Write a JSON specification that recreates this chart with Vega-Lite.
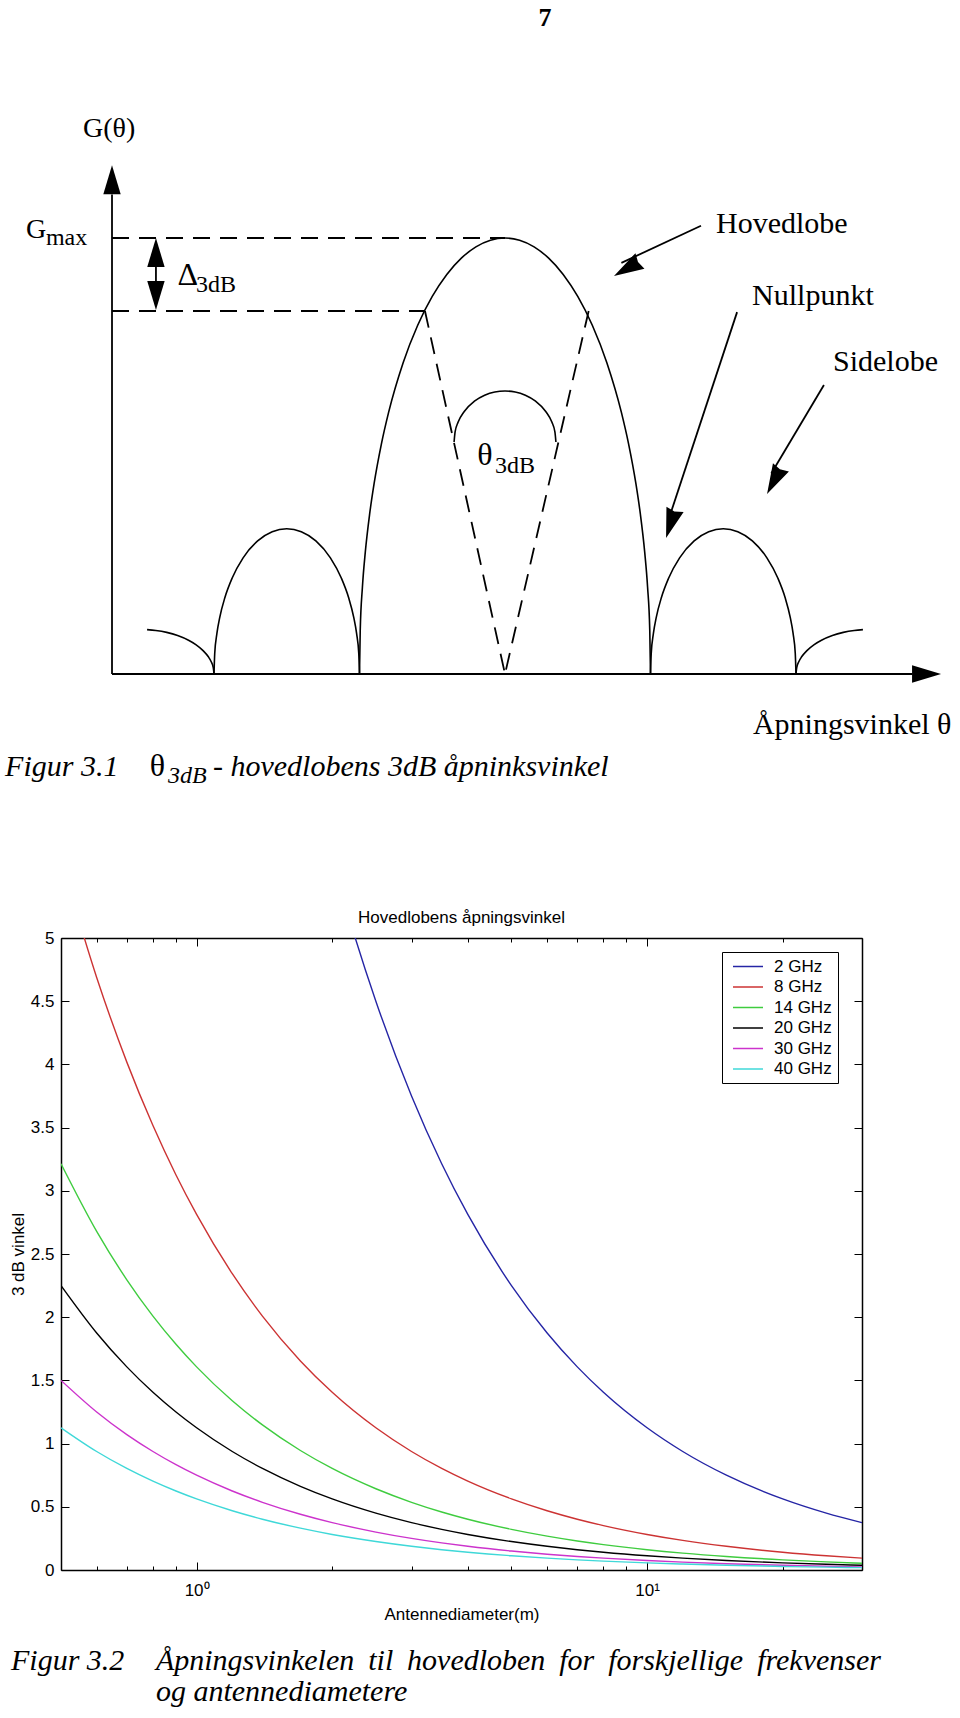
{
  "$schema": "https://vega.github.io/schema/vega-lite/v6.json",
  "width": 801,
  "height": 632,
  "autosize": {"type": "none"},
  "padding": {"left": 61, "top": 938, "right": 98, "bottom": 148},
  "background": "white",
  "config": {"view": {"stroke": null}},
  "datasets": {
    "curves": [
      {"f":"2 GHz","d":2,"v":5.625},{"f":"2 GHz","d":2.25,"v":5.0},{"f":"2 GHz","d":2.5,"v":4.5},{"f":"2 GHz","d":3,"v":3.75},{"f":"2 GHz","d":3.5,"v":3.214},{"f":"2 GHz","d":4,"v":2.813},{"f":"2 GHz","d":5,"v":2.25},{"f":"2 GHz","d":6,"v":1.875},{"f":"2 GHz","d":7,"v":1.607},{"f":"2 GHz","d":8,"v":1.406},{"f":"2 GHz","d":10,"v":1.125},{"f":"2 GHz","d":12,"v":0.9375},{"f":"2 GHz","d":15,"v":0.75},{"f":"2 GHz","d":20,"v":0.5625},{"f":"2 GHz","d":25,"v":0.45},{"f":"2 GHz","d":30,"v":0.375},
      {"f":"8 GHz","d":0.5,"v":5.625},{"f":"8 GHz","d":0.6,"v":4.688},{"f":"8 GHz","d":0.7,"v":4.018},{"f":"8 GHz","d":0.8,"v":3.516},{"f":"8 GHz","d":0.9,"v":3.125},{"f":"8 GHz","d":1,"v":2.813},{"f":"8 GHz","d":1.2,"v":2.344},{"f":"8 GHz","d":1.4,"v":2.009},{"f":"8 GHz","d":1.7,"v":1.654},{"f":"8 GHz","d":2,"v":1.406},{"f":"8 GHz","d":2.5,"v":1.125},{"f":"8 GHz","d":3,"v":0.9375},{"f":"8 GHz","d":3.5,"v":0.8036},{"f":"8 GHz","d":4,"v":0.7031},{"f":"8 GHz","d":5,"v":0.5625},{"f":"8 GHz","d":6,"v":0.4688},{"f":"8 GHz","d":7,"v":0.4018},{"f":"8 GHz","d":8,"v":0.3516},{"f":"8 GHz","d":10,"v":0.2813},{"f":"8 GHz","d":12,"v":0.2344},{"f":"8 GHz","d":15,"v":0.1875},{"f":"8 GHz","d":20,"v":0.1406},{"f":"8 GHz","d":25,"v":0.1125},{"f":"8 GHz","d":30,"v":0.0938},
      {"f":"14 GHz","d":0.5,"v":3.214},{"f":"14 GHz","d":0.6,"v":2.679},{"f":"14 GHz","d":0.7,"v":2.296},{"f":"14 GHz","d":0.8,"v":2.009},{"f":"14 GHz","d":0.9,"v":1.786},{"f":"14 GHz","d":1,"v":1.607},{"f":"14 GHz","d":1.2,"v":1.339},{"f":"14 GHz","d":1.4,"v":1.148},{"f":"14 GHz","d":1.7,"v":0.9454},{"f":"14 GHz","d":2,"v":0.8036},{"f":"14 GHz","d":2.5,"v":0.6429},{"f":"14 GHz","d":3,"v":0.5357},{"f":"14 GHz","d":3.5,"v":0.4592},{"f":"14 GHz","d":4,"v":0.4018},{"f":"14 GHz","d":5,"v":0.3214},{"f":"14 GHz","d":6,"v":0.2679},{"f":"14 GHz","d":7,"v":0.2296},{"f":"14 GHz","d":8,"v":0.2009},{"f":"14 GHz","d":10,"v":0.1607},{"f":"14 GHz","d":12,"v":0.1339},{"f":"14 GHz","d":15,"v":0.1071},{"f":"14 GHz","d":20,"v":0.0804},{"f":"14 GHz","d":25,"v":0.0643},{"f":"14 GHz","d":30,"v":0.0536},
      {"f":"20 GHz","d":0.5,"v":2.25},{"f":"20 GHz","d":0.6,"v":1.875},{"f":"20 GHz","d":0.7,"v":1.607},{"f":"20 GHz","d":0.8,"v":1.406},{"f":"20 GHz","d":0.9,"v":1.25},{"f":"20 GHz","d":1,"v":1.125},{"f":"20 GHz","d":1.2,"v":0.9375},{"f":"20 GHz","d":1.4,"v":0.8036},{"f":"20 GHz","d":1.7,"v":0.6618},{"f":"20 GHz","d":2,"v":0.5625},{"f":"20 GHz","d":2.5,"v":0.45},{"f":"20 GHz","d":3,"v":0.375},{"f":"20 GHz","d":3.5,"v":0.3214},{"f":"20 GHz","d":4,"v":0.2813},{"f":"20 GHz","d":5,"v":0.225},{"f":"20 GHz","d":6,"v":0.1875},{"f":"20 GHz","d":7,"v":0.1607},{"f":"20 GHz","d":8,"v":0.1406},{"f":"20 GHz","d":10,"v":0.1125},{"f":"20 GHz","d":12,"v":0.0938},{"f":"20 GHz","d":15,"v":0.075},{"f":"20 GHz","d":20,"v":0.0563},{"f":"20 GHz","d":25,"v":0.045},{"f":"20 GHz","d":30,"v":0.0375},
      {"f":"30 GHz","d":0.5,"v":1.5},{"f":"30 GHz","d":0.6,"v":1.25},{"f":"30 GHz","d":0.7,"v":1.071},{"f":"30 GHz","d":0.8,"v":0.9375},{"f":"30 GHz","d":0.9,"v":0.8333},{"f":"30 GHz","d":1,"v":0.75},{"f":"30 GHz","d":1.2,"v":0.625},{"f":"30 GHz","d":1.4,"v":0.5357},{"f":"30 GHz","d":1.7,"v":0.4412},{"f":"30 GHz","d":2,"v":0.375},{"f":"30 GHz","d":2.5,"v":0.3},{"f":"30 GHz","d":3,"v":0.25},{"f":"30 GHz","d":3.5,"v":0.2143},{"f":"30 GHz","d":4,"v":0.1875},{"f":"30 GHz","d":5,"v":0.15},{"f":"30 GHz","d":6,"v":0.125},{"f":"30 GHz","d":7,"v":0.1071},{"f":"30 GHz","d":8,"v":0.0938},{"f":"30 GHz","d":10,"v":0.075},{"f":"30 GHz","d":12,"v":0.0625},{"f":"30 GHz","d":15,"v":0.05},{"f":"30 GHz","d":20,"v":0.0375},{"f":"30 GHz","d":25,"v":0.03},{"f":"30 GHz","d":30,"v":0.025},
      {"f":"40 GHz","d":0.5,"v":1.125},{"f":"40 GHz","d":0.6,"v":0.9375},{"f":"40 GHz","d":0.7,"v":0.8036},{"f":"40 GHz","d":0.8,"v":0.7031},{"f":"40 GHz","d":0.9,"v":0.625},{"f":"40 GHz","d":1,"v":0.5625},{"f":"40 GHz","d":1.2,"v":0.4688},{"f":"40 GHz","d":1.4,"v":0.4018},{"f":"40 GHz","d":1.7,"v":0.3309},{"f":"40 GHz","d":2,"v":0.2813},{"f":"40 GHz","d":2.5,"v":0.225},{"f":"40 GHz","d":3,"v":0.1875},{"f":"40 GHz","d":3.5,"v":0.1607},{"f":"40 GHz","d":4,"v":0.1406},{"f":"40 GHz","d":5,"v":0.1125},{"f":"40 GHz","d":6,"v":0.0938},{"f":"40 GHz","d":7,"v":0.0804},{"f":"40 GHz","d":8,"v":0.0703},{"f":"40 GHz","d":10,"v":0.0563},{"f":"40 GHz","d":12,"v":0.0469},{"f":"40 GHz","d":15,"v":0.0375},{"f":"40 GHz","d":20,"v":0.0281},{"f":"40 GHz","d":25,"v":0.0225},{"f":"40 GHz","d":30,"v":0.0188}
    ],
    "charttitle": [
      {"txt":"Hovedlobens åpningsvinkel","d":3.873,"v":5.119}
    ],
    "lobes": [
      {"id":"main","t":-1,"g":0},{"id":"main","t":-0.995,"g":0.0999},{"id":"main","t":-0.98,"g":0.199},{"id":"main","t":-0.96,"g":0.28},{"id":"main","t":-0.93,"g":0.3676},{"id":"main","t":-0.9,"g":0.4359},{"id":"main","t":-0.85,"g":0.5268},{"id":"main","t":-0.8,"g":0.6},{"id":"main","t":-0.7,"g":0.7141},{"id":"main","t":-0.6,"g":0.8},{"id":"main","t":-0.5,"g":0.866},{"id":"main","t":-0.4,"g":0.9165},{"id":"main","t":-0.3,"g":0.9539},{"id":"main","t":-0.2,"g":0.9798},{"id":"main","t":-0.1,"g":0.995},{"id":"main","t":0,"g":1},{"id":"main","t":0.1,"g":0.995},{"id":"main","t":0.2,"g":0.9798},{"id":"main","t":0.3,"g":0.9539},{"id":"main","t":0.4,"g":0.9165},{"id":"main","t":0.5,"g":0.866},{"id":"main","t":0.6,"g":0.8},{"id":"main","t":0.7,"g":0.7141},{"id":"main","t":0.8,"g":0.6},{"id":"main","t":0.85,"g":0.5268},{"id":"main","t":0.9,"g":0.4359},{"id":"main","t":0.93,"g":0.3676},{"id":"main","t":0.96,"g":0.28},{"id":"main","t":0.98,"g":0.199},{"id":"main","t":0.995,"g":0.0999},{"id":"main","t":1,"g":0},
      {"id":"sideL","t":-2,"g":0},{"id":"sideL","t":-1.995,"g":0.047},{"id":"sideL","t":-1.98,"g":0.093},{"id":"sideL","t":-1.96,"g":0.1305},{"id":"sideL","t":-1.925,"g":0.1755},{"id":"sideL","t":-1.875,"g":0.2202},{"id":"sideL","t":-1.8,"g":0.2664},{"id":"sideL","t":-1.7,"g":0.3052},{"id":"sideL","t":-1.6,"g":0.3263},{"id":"sideL","t":-1.5,"g":0.333},{"id":"sideL","t":-1.4,"g":0.3263},{"id":"sideL","t":-1.3,"g":0.3052},{"id":"sideL","t":-1.2,"g":0.2664},{"id":"sideL","t":-1.125,"g":0.2202},{"id":"sideL","t":-1.075,"g":0.1755},{"id":"sideL","t":-1.04,"g":0.1305},{"id":"sideL","t":-1.02,"g":0.093},{"id":"sideL","t":-1.005,"g":0.047},{"id":"sideL","t":-1,"g":0},
      {"id":"sideR","t":1,"g":0},{"id":"sideR","t":1.005,"g":0.047},{"id":"sideR","t":1.02,"g":0.093},{"id":"sideR","t":1.04,"g":0.1305},{"id":"sideR","t":1.075,"g":0.1755},{"id":"sideR","t":1.125,"g":0.2202},{"id":"sideR","t":1.2,"g":0.2664},{"id":"sideR","t":1.3,"g":0.3052},{"id":"sideR","t":1.4,"g":0.3263},{"id":"sideR","t":1.5,"g":0.333},{"id":"sideR","t":1.6,"g":0.3263},{"id":"sideR","t":1.7,"g":0.3052},{"id":"sideR","t":1.8,"g":0.2664},{"id":"sideR","t":1.875,"g":0.2202},{"id":"sideR","t":1.925,"g":0.1755},{"id":"sideR","t":1.96,"g":0.1305},{"id":"sideR","t":1.98,"g":0.093},{"id":"sideR","t":1.995,"g":0.047},{"id":"sideR","t":2,"g":0},
      {"id":"partL","t":-2.46,"g":0.1017},{"id":"partL","t":-2.4,"g":0.0999},{"id":"partL","t":-2.325,"g":0.0955},{"id":"partL","t":-2.25,"g":0.0883},{"id":"partL","t":-2.175,"g":0.0775},{"id":"partL","t":-2.125,"g":0.0675},{"id":"partL","t":-2.075,"g":0.0537},{"id":"partL","t":-2.04,"g":0.04},{"id":"partL","t":-2.02,"g":0.0286},{"id":"partL","t":-2.005,"g":0.0144},{"id":"partL","t":-2,"g":0},
      {"id":"partR","t":2,"g":0},{"id":"partR","t":2.005,"g":0.0144},{"id":"partR","t":2.02,"g":0.0286},{"id":"partR","t":2.04,"g":0.04},{"id":"partR","t":2.075,"g":0.0537},{"id":"partR","t":2.125,"g":0.0675},{"id":"partR","t":2.175,"g":0.0775},{"id":"partR","t":2.25,"g":0.0883},{"id":"partR","t":2.325,"g":0.0955},{"id":"partR","t":2.4,"g":0.0999},{"id":"partR","t":2.46,"g":0.1017},
      {"id":"arc","t":-0.35,"g":0.532},{"id":"arc","t":-0.343,"g":0.5553},{"id":"arc","t":-0.322,"g":0.5779},{"id":"arc","t":-0.28,"g":0.6022},{"id":"arc","t":-0.21,"g":0.6256},{"id":"arc","t":-0.14,"g":0.6392},{"id":"arc","t":-0.07,"g":0.6467},{"id":"arc","t":0,"g":0.649},{"id":"arc","t":0.07,"g":0.6467},{"id":"arc","t":0.14,"g":0.6392},{"id":"arc","t":0.21,"g":0.6256},{"id":"arc","t":0.28,"g":0.6022},{"id":"arc","t":0.322,"g":0.5779},{"id":"arc","t":0.343,"g":0.5553},{"id":"arc","t":0.35,"g":0.532}
    ],
    "segs": [
      {"k":"solid","name":"yaxis","t":-2.701,"g":0,"t2":-2.701,"g2":1.1},
      {"k":"solid","name":"xaxis","t":-2.701,"g":0,"t2":2.8,"g2":0},
      {"k":"solid","name":"delta","t":-2.399,"g":0.86,"t2":-2.399,"g2":0.975},
      {"k":"solid","name":"hovedlobe","t":1.347,"g":1.028,"t2":0.8,"g2":0.943},
      {"k":"solid","name":"nullpunkt","t":1.595,"g":0.83,"t2":1.13,"g2":0.36},
      {"k":"solid","name":"sidelobe","t":2.192,"g":0.663,"t2":1.83,"g2":0.46},
      {"k":"dash","name":"gmax","t":-2.701,"g":1,"t2":0,"g2":1},
      {"k":"dash","name":"g3db","t":-2.701,"g":0.8326,"t2":-0.55,"g2":0.8326},
      {"k":"dash","name":"leftdiag","t":-0.55,"g":0.8326,"t2":0,"g2":0},
      {"k":"dash","name":"rightdiag","t":0.575,"g":0.8326,"t2":0,"g2":0}
    ],
    "heads": [
      {"dir":"up","t":-2.701,"g":1.167},
      {"dir":"up","t":-2.399,"g":1.0},
      {"dir":"down","t":-2.399,"g":0.835},
      {"dir":"right","t":2.997,"g":0},
      {"dir":"hoved","t":0.749,"g":0.913},
      {"dir":"null","t":1.107,"g":0.312},
      {"dir":"side","t":1.801,"g":0.413}
    ],
    "labels": [
      {"sty":"lab30","txt":"Hovedlobe","t":1.45,"g":1.011},
      {"sty":"lab30","txt":"Nullpunkt","t":1.698,"g":0.846},
      {"sty":"lab30","txt":"Sidelobe","t":2.254,"g":0.695},
      {"sty":"lab30","txt":"Åpningsvinkel θ","t":1.704,"g":-0.138},
      {"sty":"g28","txt":"G(θ)","t":-2.9,"g":1.232},
      {"sty":"g28","txt":"G","t":-3.292,"g":1.0},
      {"sty":"big","txt":"θ","t":-0.19,"g":0.479},
      {"sty":"big","txt":"Δ","t":-2.251,"g":0.892},
      {"sty":"sub24","txt":"max","t":-3.155,"g":0.984},
      {"sty":"sub24","txt":"3dB","t":-2.124,"g":0.876},
      {"sty":"sub24","txt":"3dB","t":-0.069,"g":0.461},
      {"sty":"page","txt":"7","t":0.275,"g":1.487},
      {"sty":"cap","txt":"Figur 3.1","t":-3.436,"g":-0.233},
      {"sty":"cap","txt":"- hovedlobens 3dB åpninksvinkel","t":-2.007,"g":-0.233},
      {"sty":"cap","txt":"Figur 3.2","t":-3.395,"g":-2.284},
      {"sty":"cap","txt":"Åpningsvinkelen","t":-2.399,"g":-2.284},
      {"sty":"cap","txt":"til","t":-0.94,"g":-2.284},
      {"sty":"cap","txt":"hovedloben","t":-0.673,"g":-2.284},
      {"sty":"cap","txt":"for","t":0.373,"g":-2.284},
      {"sty":"cap","txt":"forskjellige","t":0.709,"g":-2.284},
      {"sty":"cap","txt":"frekvenser","t":1.733,"g":-2.284},
      {"sty":"cap","txt":"og antennediametere","t":-2.399,"g":-2.356},
      {"sty":"capth","txt":"θ","t":-2.442,"g":-0.233},
      {"sty":"capsub","txt":"3dB","t":-2.316,"g":-0.25}
    ]
  },
  "resolve": {"scale": {"x": "independent", "y": "independent"}},
  "layer": [
    {
      "resolve": {"axis": {"x": "independent", "y": "independent"}},
      "layer": [
        {
          "data": {"name": "curves"},
          "mark": {"type": "line", "clip": true, "strokeWidth": 1.4, "interpolate": "monotone"},
          "encoding": {
            "x": {
              "field": "d", "type": "quantitative",
              "scale": {"type": "log", "domain": [0.5, 30], "nice": false},
              "axis": {
                "orient": "bottom",
                "values": [0.5, 0.6, 0.7, 0.8, 0.9, 1, 2, 3, 4, 5, 6, 7, 8, 9, 10, 20, 30],
                "labelExpr": "datum.value == 1 ? '10⁰' : (datum.value == 10 ? '10¹' : '')",
                "title": "Antennediameter(m)",
                "grid": false,
                "domainColor": "black", "domainWidth": 1.5,
                "tickColor": "black", "tickWidth": 1,
                "tickSize": {"condition": {"test": "datum.value == 1 || datum.value == 10", "value": -8}, "value": -4},
                "labelPadding": 20,
                "labelFont": "Liberation Sans", "labelFontSize": 17, "labelColor": "black",
                "labelOverlap": false, "labelFlush": false,
                "titleFont": "Liberation Sans", "titleFontSize": 17, "titleFontWeight": "normal", "titleColor": "black", "titlePadding": 4
              }
            },
            "y": {
              "field": "v", "type": "quantitative",
              "scale": {"domain": [0, 5], "nice": false, "zero": false},
              "axis": {
                "orient": "left",
                "values": [0, 0.5, 1, 1.5, 2, 2.5, 3, 3.5, 4, 4.5, 5],
                "format": "~g",
                "title": "3 dB vinkel",
                "grid": false,
                "domainColor": "black", "domainWidth": 1.5,
                "tickColor": "black", "tickWidth": 1, "tickSize": -8,
                "labelPadding": 15,
                "labelFont": "Liberation Sans", "labelFontSize": 17, "labelColor": "black",
                "labelFlush": false, "labelOverlap": false,
                "titleFont": "Liberation Sans", "titleFontSize": 17, "titleFontWeight": "normal", "titleColor": "black", "titlePadding": 3
              }
            },
            "color": {
              "field": "f", "type": "nominal",
              "scale": {
                "domain": ["2 GHz", "8 GHz", "14 GHz", "20 GHz", "30 GHz", "40 GHz"],
                "range": ["#2525a5", "#cc3333", "#3fcc3f", "#000000", "#cc33cc", "#3fd8d8"]
              },
              "legend": {
                "orient": "none", "legendX": 661, "legendY": 14,
                "title": null,
                "symbolType": "M-0.467,0H3.533", "symbolSize": 225, "symbolStrokeWidth": 1.5,
                "labelFont": "Liberation Sans", "labelFontSize": 17, "labelColor": "black",
                "labelOffset": 29, "rowPadding": 2.5, "padding": 6,
                "strokeColor": "black", "fillColor": "white"
              }
            }
          }
        },
        {
          "data": {"name": "charttitle"},
          "mark": {"type": "text", "font": "Liberation Sans", "fontSize": 17, "align": "center", "baseline": "alphabetic", "color": "black"},
          "encoding": {
            "x": {
              "field": "d", "type": "quantitative",
              "scale": {"type": "log", "domain": [0.5, 30], "nice": false},
              "axis": {
                "orient": "top",
                "values": [0.5, 0.6, 0.7, 0.8, 0.9, 1, 2, 3, 4, 5, 6, 7, 8, 9, 10, 20, 30],
                "labels": false, "title": null, "grid": false,
                "domainColor": "black", "domainWidth": 1.5,
                "tickColor": "black", "tickWidth": 1,
                "tickSize": {"condition": {"test": "datum.value == 1 || datum.value == 10", "value": -8}, "value": -4}
              }
            },
            "y": {
              "field": "v", "type": "quantitative",
              "scale": {"domain": [0, 5], "nice": false, "zero": false},
              "axis": {
                "orient": "right",
                "values": [0, 0.5, 1, 1.5, 2, 2.5, 3, 3.5, 4, 4.5, 5],
                "labels": false, "title": null, "grid": false,
                "domainColor": "black", "domainWidth": 1.5,
                "tickColor": "black", "tickWidth": 1, "tickSize": -8
              }
            },
            "text": {"field": "txt"}
          }
        }
      ]
    },
    {
      "encoding": {
        "x": {"field": "t", "type": "quantitative", "scale": {"domain": [-3, 3], "range": [7.5, 880.5], "nice": false, "zero": false}, "axis": null},
        "y": {"field": "g", "type": "quantitative", "scale": {"domain": [0, 1], "range": [-264, -700], "nice": false, "zero": false}, "axis": null}
      },
      "layer": [
        {
          "data": {"name": "lobes"},
          "mark": {"type": "line", "color": "black", "strokeWidth": 1.6, "interpolate": "monotone"},
          "encoding": {"detail": {"field": "id"}}
        },
        {
          "data": {"name": "segs"},
          "transform": [{"filter": "datum.k == 'solid'"}],
          "mark": {"type": "rule", "color": "black", "strokeWidth": 1.8},
          "encoding": {"x2": {"field": "t2"}, "y2": {"field": "g2"}}
        },
        {
          "data": {"name": "segs"},
          "transform": [{"filter": "datum.k == 'dash'"}],
          "mark": {"type": "rule", "color": "black", "strokeWidth": 1.8, "strokeDash": [17, 10]},
          "encoding": {"x2": {"field": "t2"}, "y2": {"field": "g2"}}
        },
        {
          "data": {"name": "heads"},
          "transform": [{"filter": "datum.dir == 'up'"}],
          "mark": {"type": "point", "shape": "M0,0L0.6,2L-0.6,2Z", "size": 841, "filled": true, "color": "black", "opacity": 1, "angle": 0, "strokeWidth": 0}
        },
        {
          "data": {"name": "heads"},
          "transform": [{"filter": "datum.dir == 'down'"}],
          "mark": {"type": "point", "shape": "M0,0L0.6,2L-0.6,2Z", "size": 841, "filled": true, "color": "black", "opacity": 1, "angle": 180, "strokeWidth": 0}
        },
        {
          "data": {"name": "heads"},
          "transform": [{"filter": "datum.dir == 'right'"}],
          "mark": {"type": "point", "shape": "M0,0L0.6,2L-0.6,2Z", "size": 841, "filled": true, "color": "black", "opacity": 1, "angle": 90, "strokeWidth": 0}
        },
        {
          "data": {"name": "heads"},
          "transform": [{"filter": "datum.dir == 'hoved'"}],
          "mark": {"type": "point", "shape": "M0,0L0.6,2L0,1.85L-0.6,2Z", "size": 900, "filled": true, "color": "black", "opacity": 1, "angle": 240, "strokeWidth": 0}
        },
        {
          "data": {"name": "heads"},
          "transform": [{"filter": "datum.dir == 'null'"}],
          "mark": {"type": "point", "shape": "M0,0L0.6,2L0,1.85L-0.6,2Z", "size": 900, "filled": true, "color": "black", "opacity": 1, "angle": 197.4, "strokeWidth": 0}
        },
        {
          "data": {"name": "heads"},
          "transform": [{"filter": "datum.dir == 'side'"}],
          "mark": {"type": "point", "shape": "M0,0L0.6,2L0,1.85L-0.6,2Z", "size": 900, "filled": true, "color": "black", "opacity": 1, "angle": 207.6, "strokeWidth": 0}
        },
        {
          "data": {"name": "labels"},
          "transform": [{"filter": "datum.sty == 'lab30'"}],
          "mark": {"type": "text", "font": "Liberation Serif", "fontSize": 30, "align": "left", "baseline": "alphabetic", "color": "black"},
          "encoding": {"text": {"field": "txt"}}
        },
        {
          "data": {"name": "labels"},
          "transform": [{"filter": "datum.sty == 'g28'"}],
          "mark": {"type": "text", "font": "Liberation Serif", "fontSize": 28, "align": "left", "baseline": "alphabetic", "color": "black"},
          "encoding": {"text": {"field": "txt"}}
        },
        {
          "data": {"name": "labels"},
          "transform": [{"filter": "datum.sty == 'big'"}],
          "mark": {"type": "text", "font": "Liberation Serif", "fontSize": 32, "align": "left", "baseline": "alphabetic", "color": "black"},
          "encoding": {"text": {"field": "txt"}}
        },
        {
          "data": {"name": "labels"},
          "transform": [{"filter": "datum.sty == 'sub24'"}],
          "mark": {"type": "text", "font": "Liberation Serif", "fontSize": 24, "align": "left", "baseline": "alphabetic", "color": "black"},
          "encoding": {"text": {"field": "txt"}}
        },
        {
          "data": {"name": "labels"},
          "transform": [{"filter": "datum.sty == 'page'"}],
          "mark": {"type": "text", "font": "Liberation Serif", "fontSize": 26, "fontWeight": "bold", "align": "center", "baseline": "alphabetic", "color": "black"},
          "encoding": {"text": {"field": "txt"}}
        },
        {
          "data": {"name": "labels"},
          "transform": [{"filter": "datum.sty == 'cap'"}],
          "mark": {"type": "text", "font": "Liberation Serif", "fontSize": 30, "fontStyle": "italic", "align": "left", "baseline": "alphabetic", "color": "black"},
          "encoding": {"text": {"field": "txt"}}
        },
        {
          "data": {"name": "labels"},
          "transform": [{"filter": "datum.sty == 'capth'"}],
          "mark": {"type": "text", "font": "Liberation Serif", "fontSize": 32, "align": "left", "baseline": "alphabetic", "color": "black"},
          "encoding": {"text": {"field": "txt"}}
        },
        {
          "data": {"name": "labels"},
          "transform": [{"filter": "datum.sty == 'capsub'"}],
          "mark": {"type": "text", "font": "Liberation Serif", "fontSize": 24, "fontStyle": "italic", "align": "left", "baseline": "alphabetic", "color": "black"},
          "encoding": {"text": {"field": "txt"}}
        }
      ]
    }
  ]
}
